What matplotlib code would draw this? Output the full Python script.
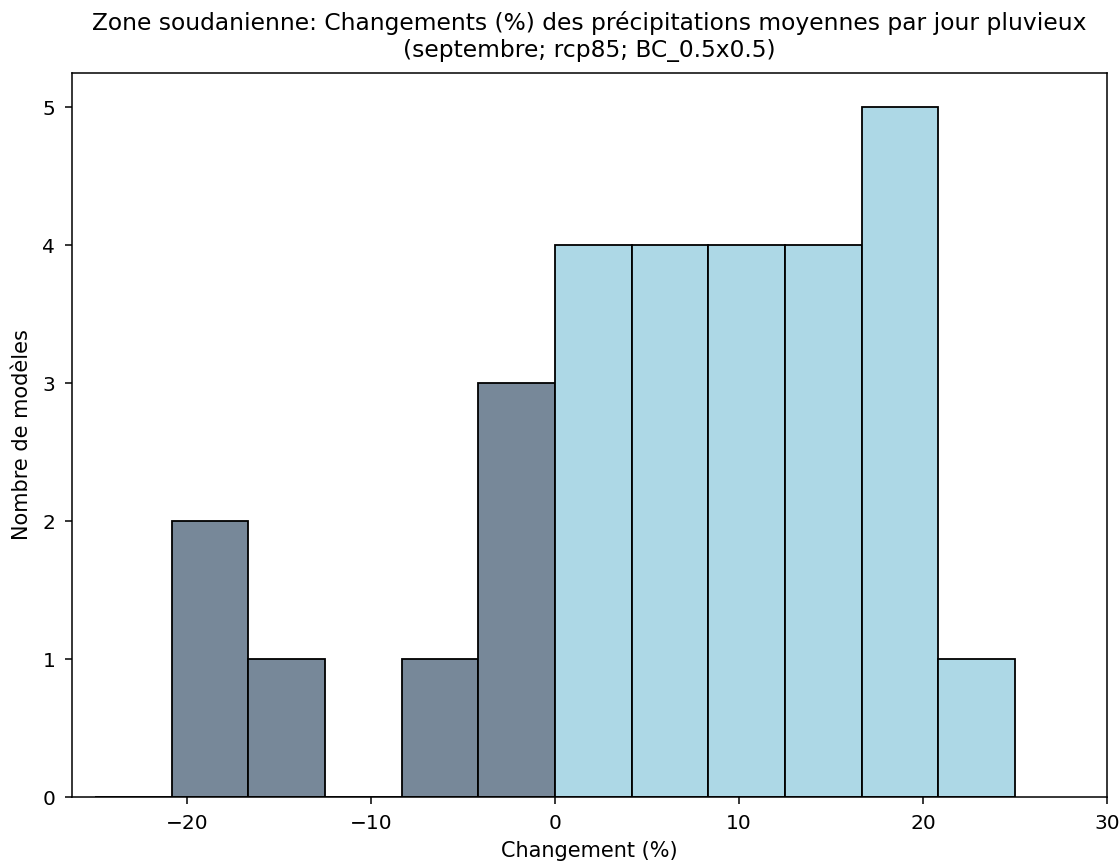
import matplotlib
matplotlib.use("Agg")
import matplotlib.pyplot as plt
import numpy as np

bin_edges = [-25.0, -20.8333, -16.6667, -12.5, -8.3333, -4.1667, 0.0,
             4.1667, 8.3333, 12.5, 16.6667, 20.8333, 25.0]
counts = [0, 2, 1, 0, 1, 3, 4, 4, 4, 4, 5, 1]
neg_color = "#778899"
pos_color = "#ADD8E6"
title = "Zone soudanienne: Changements (%) des précipitations moyennes par jour pluvieux\n(septembre; rcp85; BC_0.5x0.5)"
xlabel = "Changement (%)"
ylabel = "Nombre de modèles"

edges = np.array(bin_edges)
cnt = np.array(counts, dtype=float)
centers = (edges[:-1] + edges[1:]) / 2

fig = plt.figure(figsize=(11.2, 8.65), dpi=100)
ax = fig.add_axes([0.0643, 0.0786, 0.9241, 0.837])

neg = centers < 0
ax.hist(centers[neg], bins=edges[:7], weights=cnt[neg], color=neg_color,
        edgecolor="black", linewidth=1.3)
ax.hist(centers[~neg], bins=edges[6:], weights=cnt[~neg], color=pos_color,
        edgecolor="black", linewidth=1.3)

ax.set_xlim(-26.25, 30)
ax.set_xticks([-20, -10, 0, 10, 20, 30])
ax.set_yticks([0, 1, 2, 3, 4, 5])
ax.tick_params(labelsize=14.5, length=5, width=1.1, pad=7)
for s in ax.spines.values():
    s.set_linewidth(1.1)
ax.set_xlabel(xlabel, fontsize=15, labelpad=6)
ax.set_ylabel(ylabel, fontsize=15, labelpad=7.5)
ax.set_title(title, fontsize=16.8, pad=11.5)

fig.savefig("out.png", dpi=100)
